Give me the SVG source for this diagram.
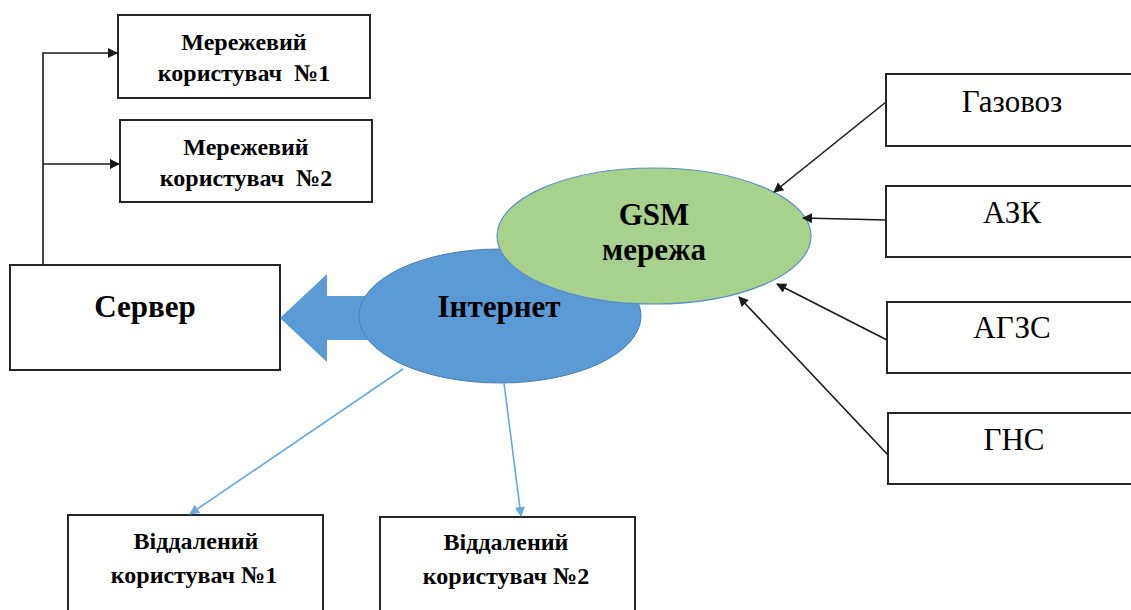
<svg xmlns="http://www.w3.org/2000/svg" width="1131" height="610" viewBox="0 0 1131 610" font-family="Liberation Serif, Times New Roman, serif">
<style>
.box{fill:#fff;stroke:#262626;stroke-width:2}
.tb{font-weight:bold;fill:#000;text-anchor:middle}
.tr{fill:#000;text-anchor:middle;font-size:31px}
.s24{font-size:24px}
.s31{font-size:31px}
.blk{stroke:#1a1a1a;stroke-width:1.6;fill:none}
.blu{stroke:#6aa7dc;stroke-width:1.6;fill:none}
</style>
<defs>
<marker id="ab" viewBox="0 0 10 10" refX="9" refY="5" markerWidth="11" markerHeight="10" markerUnits="userSpaceOnUse" orient="auto"><path d="M0,0 L10,5 L0,10 z" fill="#1a1a1a"/></marker>
<marker id="abl" viewBox="0 0 10 10" refX="9" refY="5" markerWidth="11" markerHeight="10" markerUnits="userSpaceOnUse" orient="auto"><path d="M0,0 L10,5 L0,10 z" fill="#6aa7dc"/></marker>
</defs>
<rect width="1131" height="610" fill="#fff"/>

<g id="net-user-1"><rect class="box" x="118" y="15" width="252" height="83"/><text class="tb s24" x="244" y="50">Мережевий</text><text class="tb s24" x="244" y="81" xml:space="preserve">користувач  №1</text></g>
<g id="net-user-2"><rect class="box" x="120" y="120" width="252" height="82"/><text class="tb s24" x="246" y="155">Мережевий</text><text class="tb s24" x="246" y="186" xml:space="preserve">користувач  №2</text></g>
<g id="server"><rect class="box" x="10" y="265" width="270" height="105"/><text class="tb s31" x="145" y="317">Сервер</text></g>

<g id="block-arrow"><path d="M280,318 L327,274 L327,296 L380,296 L380,340 L327,340 L327,362 z" fill="#5b9bd5"/></g>
<g id="internet"><ellipse cx="500" cy="316" rx="141" ry="67" fill="#5b9bd5" stroke="#4a7fb0" stroke-width="1"/><text class="tb s31" x="499" y="317">Інтернет</text></g>
<g id="gsm"><ellipse cx="654" cy="236" rx="157" ry="68" fill="#a9d18e" stroke="#5b8fc4" stroke-width="1.2"/><text class="tb s31" x="654" y="225">GSM</text><text class="tb s31" x="654" y="260">мережа</text></g>

<g id="gazovoz"><rect class="box" x="886" y="74" width="250" height="72"/><text class="tr" x="1012" y="112">Газовоз</text></g>
<g id="azk"><rect class="box" x="886" y="186" width="250" height="71"/><text class="tr" x="1012" y="223">АЗК</text></g>
<g id="agzs"><rect class="box" x="887" y="302" width="250" height="71"/><text class="tr" x="1012" y="338">АГЗС</text></g>
<g id="gns"><rect class="box" x="888" y="413" width="250" height="71"/><text class="tr" x="1014" y="450">ГНС</text></g>

<g id="remote-user-1"><rect class="box" x="68" y="515" width="255" height="100"/><text class="tb s24" x="196" y="549">Віддалений</text><text class="tb s24" x="194" y="583">користувач №1</text></g>
<g id="remote-user-2"><rect class="box" x="380" y="517" width="255" height="100"/><text class="tb s24" x="506" y="550">Віддалений</text><text class="tb s24" x="506" y="584">користувач №2</text></g>

<g id="connectors">
<path class="blk" d="M43,265 L43,53 L117,53" marker-end="url(#ab)"/>
<path class="blk" d="M43,164 L119,164" marker-end="url(#ab)"/>
<path class="blk" d="M886,102 L774,192" marker-end="url(#ab)"/>
<path class="blk" d="M886,220 L803,218" marker-end="url(#ab)"/>
<path class="blk" d="M887,340 L777,284" marker-end="url(#ab)"/>
<path class="blk" d="M888,455 L739,297" marker-end="url(#ab)"/>
<path class="blu" d="M403,369 L190,514" marker-end="url(#abl)"/>
<path class="blu" d="M504,383 L521,516" marker-end="url(#abl)"/>
</g>
</svg>
